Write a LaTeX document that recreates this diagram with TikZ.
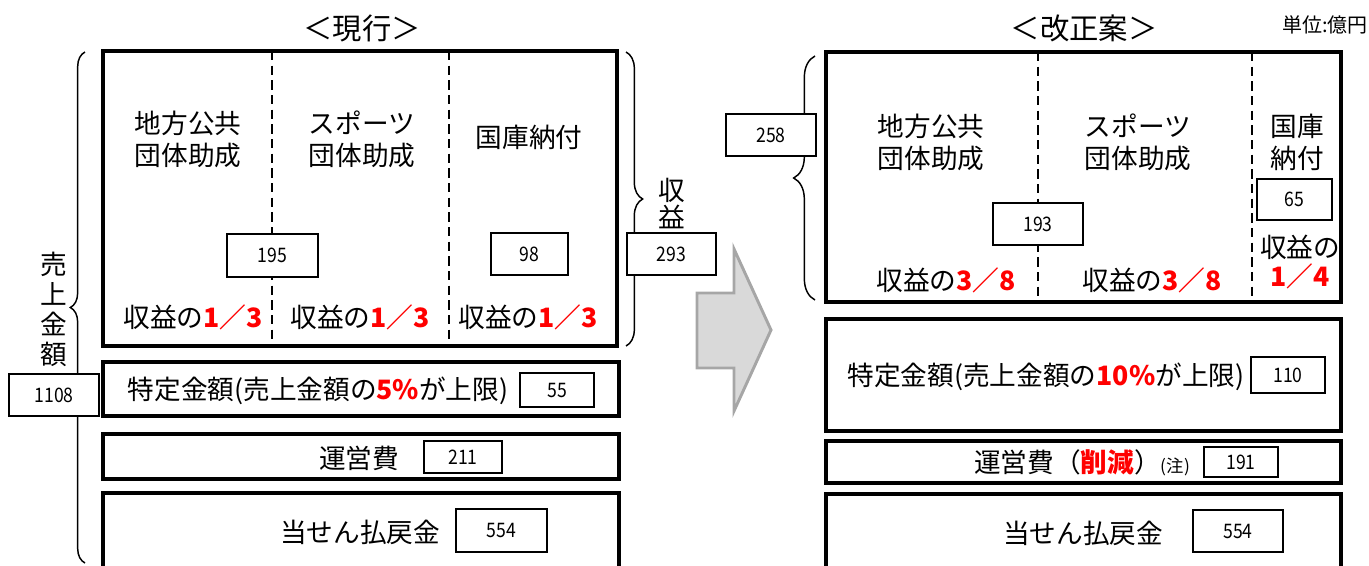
\documentclass[tikz,border=0pt]{standalone}
\usepackage{fontspec}
\setmainfont{Noto Sans CJK JP}
\newfontfamily\numfont{Noto Sans CJK JP}[FakeStretch=0.88]
\usetikzlibrary{positioning, fit, decorations.pathreplacing}
\newcommand\redb[1]{\textcolor{red}{\bfseries #1}}

\begin{document}
\begin{tikzpicture}[x=0.75pt, y=-0.75pt,
    bigbox/.style={draw, line width=3.2pt, inner sep=0pt},
    valbox/.style={draw, line width=1.5pt, fill=white, inner sep=1pt,
                   font=\numfont\fontsize{15}{17}\selectfont},
    divider/.style={line width=1.2pt, dash pattern=on 7pt off 4pt},
    curly/.style={decorate, decoration={brace, amplitude=#1}, line width=1.1pt},
    jtext/.style={align=center, inner sep=1pt, font=\fontsize{20}{24}\selectfont},
    headline/.style={font=\fontsize{22}{26}\selectfont}]

    \useasboundingbox (0,0) rectangle (1369,565);

    % Current scheme - left side
    \node[headline] (curtitle) at (362,28) {＜現行＞};
    \node[bigbox, fit={(103,51) (617,346)}] (curshare) {};
    \node[bigbox, fit={(103,362) (619,416)}] (curspec) {};
    \node[bigbox, fit={(103,434) (619,479)}] (curops) {};
    \node[bigbox, fit={(103,493) (619,590)}] (curpay) {};
    \draw[divider] (272,51) -- (272,346);
    \draw[divider] (449,51) -- (449,346);

    \node[jtext] (curlocal) at (188,139) {地方公共\\団体助成};
    \node[jtext] (cursport) at (362,139) {スポーツ\\団体助成};
    \node[jtext] (curnat) at (529,137) {国庫納付};
    \node[jtext] (curshA) at (193,317) {収益の\redb{1／3}};
    \node[jtext] (curshB) at (360,317) {収益の\redb{1／3}};
    \node[jtext] (curshC) at (528,317) {収益の\redb{1／3}};
    \node[jtext] (curspectxt) at (318,391) {特定金額(売上金額の\redb{5\%}が上限)};
    \node[jtext] (curopstxt) at (359,458) {運営費};
    \node[jtext] (curpaytxt) at (360,532) {当せん払戻金};

    % Braces (current)
    \draw[curly=11pt] (85,563) -- (85,52);
    \draw[curly=12.5pt] (626,52) -- (626,346);

    % Amounts (current)
    \node[valbox, minimum width=68pt, minimum height=32pt] (cursub) at (272.5,255.5) {195};
    \node[valbox, minimum width=58pt, minimum height=31.5pt] (curtax) at (529.5,254) {98};
    \node[valbox, minimum width=67pt, minimum height=31.5pt] (currev) at (671.5,254) {293};
    \node[valbox, minimum width=67pt, minimum height=32pt] (cursales) at (54,395) {1108};
    \node[valbox, minimum width=55pt, minimum height=25.5pt] (curspecv) at (557,390) {55};
    \node[valbox, minimum width=58pt, minimum height=24pt] (curopsv) at (463,457) {211};
    \node[valbox, minimum width=68pt, minimum height=32pt] (curpayv) at (501.5,530.5) {554};

    \node[jtext, font=\fontsize{20}{20}\selectfont, above=1.5pt of currev] (currevlbl) {収\\益};
    \node[jtext, font=\fontsize{20}{22.5}\selectfont, above=3pt of cursales] (cursaleslbl) {売\\上\\金\\額};

    % Transition arrow
    \draw[line width=2.2pt, draw=gray!70, fill=gray!30, line join=miter]
        (697,293) -- (734,293) -- (734,249) -- (771,330) -- (734,411)
        -- (734,368) -- (697,368) -- cycle;

    % Revised plan - right side
    \node[headline] (newtitle) at (1084,28) {＜改正案＞};
    \node[font=\fontsize{15}{17}\selectfont, anchor=east, inner sep=0pt] (unit) at (1368,25) {単位:億円};
    \node[bigbox, fit={(826,52) (1341,302)}] (newshare) {};
    \node[bigbox, fit={(826,319) (1341,431)}] (newspec) {};
    \node[bigbox, fit={(826,441) (1341,483)}] (newops) {};
    \node[bigbox, fit={(826,494) (1341,590)}] (newpay) {};
    \draw[divider] (1038,52) -- (1038,302);
    \draw[divider] (1252,52) -- (1252,302);

    \node[jtext] (newlocal) at (931,142) {地方公共\\団体助成};
    \node[jtext] (newsport) at (1138,142) {スポーツ\\団体助成};
    \node[jtext] (newnat) at (1297,142) {国庫\\納付};
    \node[jtext] (newshA) at (946,280) {収益の\redb{3／8}};
    \node[jtext] (newshB) at (1152,280) {収益の\redb{3／8}};
    \node[jtext, font=\fontsize{20}{22}\selectfont] (newshC) at (1300,262) {収益の\\\redb{1／4}};
    \node[jtext] (newspectxt) at (1046,377) {特定金額(売上金額の\redb{10\%}が上限)};
    \node[jtext] (newopstxt) at (1082,463) {運営費（\redb{削減}）{\fontsize{13}{15}\selectfont(注)}};
    \node[jtext] (newpaytxt) at (1083,533) {当せん払戻金};

    % Brace (revised)
    \draw[curly=16pt] (815,300) -- (815,56);

    % Amounts (revised)
    \node[valbox, minimum width=67.5pt, minimum height=31.5pt] (newrev) at (771,135) {258};
    \node[valbox, minimum width=67.5pt, minimum height=31.5pt] (newsub) at (1038,224) {193};
    \node[valbox, minimum width=56pt, minimum height=31pt] (newtax) at (1294.5,199.5) {65};
    \node[valbox, minimum width=55.5pt, minimum height=27pt] (newspecv) at (1288,375) {110};
    \node[valbox, minimum width=55.5pt, minimum height=22.5pt] (newopsv) at (1241,462) {191};
    \node[valbox, minimum width=67.5pt, minimum height=31.5pt] (newpayv) at (1238,531) {554};
\end{tikzpicture}
\end{document}
